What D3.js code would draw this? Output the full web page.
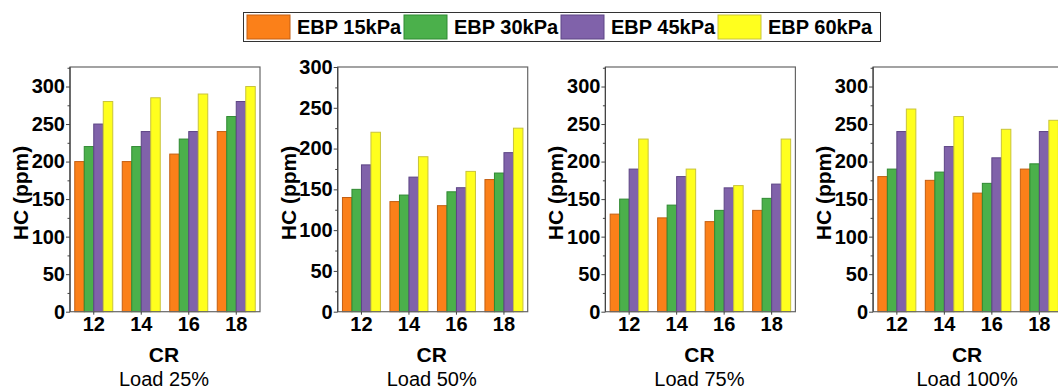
<!DOCTYPE html>
<meta charset="utf-8">
<title>HC vs CR</title>
<style>
body { margin: 0; background: #fff; }
svg text { font-family: Arial, "Liberation Sans", sans-serif; fill: #000; }
</style>
<svg id="chart" width="1058" height="390"></svg>
<script src="https://cdn.jsdelivr.net/npm/d3@7/dist/d3.min.js"></script>
<script>
'use strict';

// data (HC in ppm), rows = CR, columns = EBP series
const crValues = ["12", "14", "16", "18"];
const seriesNames = ["EBP 15kPa", "EBP 30kPa", "EBP 45kPa", "EBP 60kPa"];
const loadNames = ["Load 25%", "Load 50%", "Load 75%", "Load 100%"];

const hcLoad25 = [[200, 220, 250, 280], [200, 220, 240, 285], [210, 230, 240, 290], [240, 260, 280, 300]];
const hcLoad50 = [[140, 150, 180, 220], [135, 143, 165, 190], [130, 147, 152, 172], [162, 170, 195, 225]];
const hcLoad75 = [[130, 150, 190, 230], [125, 142, 180, 190], [120, 135, 165, 168], [135, 151, 170, 230]];
const hcLoad100 = [[180, 190, 240, 270], [175, 186, 220, 260], [158, 171, 205, 243], [190, 197, 240, 255]];

const yTicks = [0, 50, 100, 150, 200, 250, 300];
const yTopValues = [326, 300, 326, 326];

const fills = ["#fb8019", "#4bb04b", "#8062aa", "#ffff1e"];
const strokes = ["#c45f12", "#2f8a32", "#5d4585", "#c9c43a"];

const panels = [hcLoad25, hcLoad50, hcLoad75, hcLoad100];

const svg = d3.select("#chart");
svg.append("rect").attr("width", 1058).attr("height", 390).attr("fill", "#fff");

const plotW = 190, plotTop = 67, plotBottom = 311.7, panelStep = 267.7, firstLeft = 70;

panels.forEach(function(rows, i) {
  const left = firstLeft + i * panelStep;
  const g = svg.append("g").attr("transform", "translate(" + left + ",0)");

  const y = d3.scaleLinear().domain([0, yTopValues[i]]).range([plotBottom, plotTop]);
  const x0 = d3.scaleBand().domain(crValues).range([0, plotW]).paddingInner(0.2).paddingOuter(0.1);
  const x1 = d3.scaleBand().domain(d3.range(seriesNames.length)).range([0, x0.bandwidth()]);

  // bars
  const grp = g.selectAll(".grp")
    .data(rows)
    .enter().append("g")
      .attr("transform", (d, k) => "translate(" + x0(crValues[k]) + ",0)");
  grp.selectAll("rect")
    .data(d => d)
    .enter().append("rect")
      .attr("x", (d, s) => x1(s))
      .attr("y", d => y(d))
      .attr("width", x1.bandwidth())
      .attr("height", d => plotBottom - y(d))
      .attr("fill", (d, s) => fills[s])
      .attr("stroke", (d, s) => strokes[s])
      .attr("stroke-width", 1);

  // frame
  g.append("rect")
    .attr("x", 0).attr("y", plotTop)
    .attr("width", plotW).attr("height", plotBottom - plotTop)
    .attr("fill", "none").attr("stroke", "#666").attr("stroke-width", 1.2);

  // minor y ticks
  const minor = d3.range(25, yTopValues[i], 50);
  g.append("g")
    .call(d3.axisLeft(y).tickValues(minor).tickSize(2.5).tickFormat(""))
    .call(a => a.select(".domain").remove())
    .selectAll("line").attr("stroke", "#444");

  // major y ticks
  const ya = g.append("g")
    .call(d3.axisLeft(y).tickValues(yTicks).tickSize(4).tickPadding(1))
    .call(a => a.select(".domain").remove());
  ya.selectAll("line").attr("stroke", "#444");
  ya.selectAll("text")
    .style("font-size", "20px").style("font-weight", "bold");

  // left axis line
  g.append("line").attr("x1", 0).attr("x2", 0).attr("y1", plotTop).attr("y2", plotBottom)
    .attr("stroke", "#444").attr("stroke-width", 1.2);

  // x axis
  const xa = g.append("g")
    .attr("transform", "translate(0," + plotBottom + ")")
    .call(d3.axisBottom(x0).tickSize(3).tickPadding(2))
    .call(a => a.select(".domain").remove());
  xa.selectAll("line").attr("stroke", "#444");
  xa.selectAll("text")
    .style("font-size", "20px").style("font-weight", "bold");

  g.append("text")
    .attr("transform", "translate(-42,193) rotate(-90)")
    .attr("text-anchor", "middle")
    .style("font-size", "21px").style("font-weight", "bold")
    .text("HC (ppm)");

  g.append("text")
    .attr("x", plotW / 2 - 1).attr("y", 361.5)
    .attr("text-anchor", "middle")
    .style("font-size", "21px").style("font-weight", "bold")
    .text("CR");

  g.append("text")
    .attr("x", plotW / 2 - 1).attr("y", 386)
    .attr("text-anchor", "middle")
    .style("font-size", "20px")
    .text(loadNames[i]);
});

// legend
const legend = svg.append("g");
legend.append("rect")
  .attr("x", 243.5).attr("y", 12.5).attr("width", 637).attr("height", 29)
  .attr("fill", "#fff").attr("stroke", "#333").attr("stroke-width", 1);

const item = legend.selectAll(".item")
  .data(seriesNames)
  .enter().append("g")
    .attr("transform", (d, s) => "translate(" + (247 + s * 157) + ",15)");
item.append("rect")
  .attr("width", 43).attr("height", 24)
  .attr("fill", (d, s) => fills[s])
  .attr("stroke", (d, s) => strokes[s]);
item.append("text")
  .attr("x", 50).attr("y", 19)
  .style("font-size", "20px").style("font-weight", "bold")
  .text(d => d);
</script>
